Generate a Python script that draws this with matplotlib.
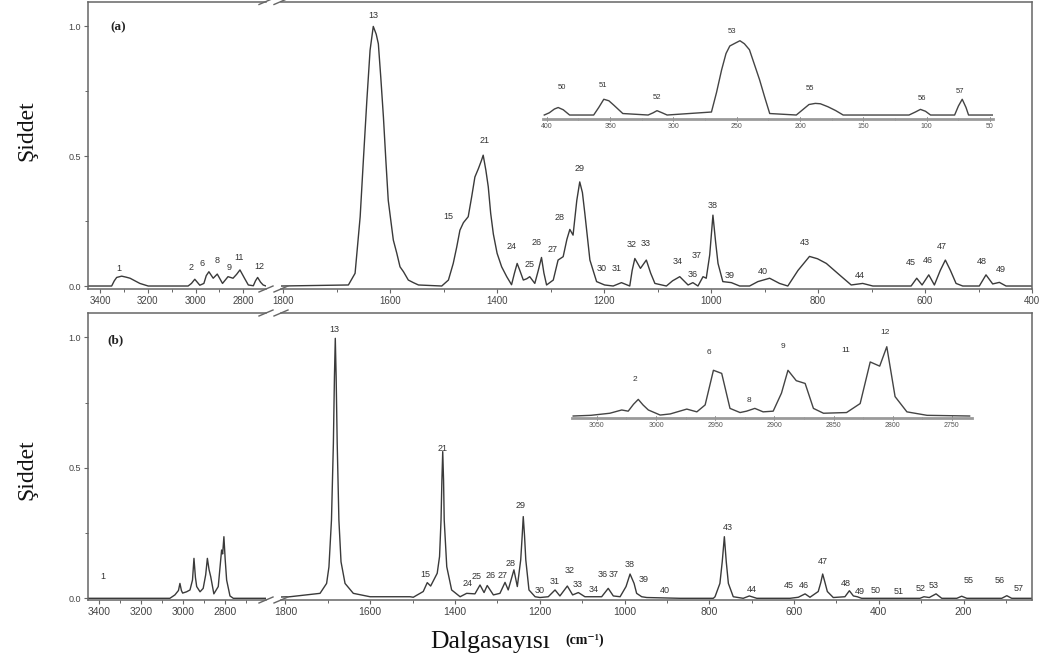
import matplotlib
matplotlib.use('Agg')
import matplotlib.pyplot as plt
from matplotlib.lines import Line2D
from matplotlib.ticker import MultipleLocator, FixedLocator

# ---------------- data ----------------
# Panel (a), high-wavenumber segment
A_L_WN = [3450, 3351, 3340, 3330, 3309, 3290, 3274, 3233, 3198, 3031,
          3017, 3003, 2982, 2965, 2955, 2944, 2926, 2909, 2887, 2864,
          2843, 2828, 2814, 2795, 2779, 2758, 2749, 2740, 2728, 2717, 2705]
A_L_I = [0, 0, 0.02, 0.033, 0.038, 0.034, 0.03, 0.01, 0, 0,
         0.01, 0.026, 0.003, 0.01, 0.04, 0.055, 0.03, 0.046, 0.01, 0.036,
         0.03, 0.045, 0.062, 0.03, 0.004, 0.001, 0.02, 0.033, 0.015, 0.004, 0]

# Panel (a), fingerprint segment
A_R_WN = [1804, 1678, 1665.5, 1656, 1650, 1643.5, 1637.5, 1631.5, 1626, 1622,
          1617.5, 1612.5, 1608, 1603.5, 1598, 1594, 1587.5, 1581.5, 1575, 1566,
          1556.5, 1547, 1503.5, 1491, 1482, 1475.5, 1469.5, 1463, 1454, 1447.5,
          1441.5, 1435, 1429, 1426, 1421, 1416.5, 1412, 1407, 1400, 1391.5,
          1382, 1373, 1367.5, 1362.5, 1357.5, 1351, 1344.5, 1339, 1329.5, 1323,
          1317, 1312.5, 1307.5, 1295, 1286, 1276.5, 1269.5, 1264, 1258, 1251,
          1245.5, 1240.5, 1236, 1226.5, 1214, 1199, 1183, 1167.5, 1152, 1147.5,
          1142.5, 1132, 1121, 1113, 1105, 1083.5, 1072, 1058.5, 1043, 1034,
          1024.5, 1015, 1009, 1002.5, 996.5, 991.5, 987, 978, 962, 946.5,
          928, 912.5, 890.5, 872, 856.5, 837.5, 816, 801, 784.5, 760,
          738, 716.5, 697.5, 626, 615.5, 605.5, 593, 582.5, 571.5, 562,
          552.5, 542, 529.5, 498.5, 486, 473.5, 461, 448.5, 401]
A_R_I = [0, 0.004, 0.049, 0.267, 0.485, 0.715, 0.908, 1.0, 0.97, 0.933,
         0.805, 0.65, 0.485, 0.33, 0.241, 0.177, 0.126, 0.074, 0.055, 0.023,
         0.013, 0.004, 0, 0.023, 0.087, 0.15, 0.215, 0.244, 0.267, 0.344,
         0.42, 0.452, 0.485, 0.504, 0.446, 0.382, 0.28, 0.2, 0.126, 0.074,
         0.036, 0.005, 0.05, 0.087, 0.06, 0.023, 0.028, 0.036, 0.01, 0.06,
         0.11, 0.05, 0.004, 0.023, 0.1, 0.113, 0.18, 0.218, 0.196, 0.33,
         0.401, 0.36, 0.28, 0.1, 0.017, 0.004, 0, 0.013, 0, 0.06,
         0.106, 0.068, 0.1, 0.05, 0.01, 0, 0.02, 0.036, 0.004, 0.013,
         0, 0.036, 0.03, 0.12, 0.273, 0.17, 0.087, 0.017, 0.013, 0,
         0, 0.017, 0.03, 0.01, 0, 0.06, 0.114, 0.105, 0.087, 0.043,
         0.004, 0.01, 0, 0, 0.03, 0.004, 0.043, 0.004, 0.06, 0.1,
         0.06, 0.01, 0, 0, 0.043, 0.008, 0.014, 0, 0]

# Panel (a) inset (400-50 cm-1, relative)
INS_A_WN = [402, 398, 394, 391, 387, 382, 363, 359, 355, 351,
            347, 340, 320, 316, 313, 309, 305, 270, 266, 262,
            258.5, 255.5, 251, 247.5, 244, 240, 236, 232, 228, 224,
            203, 198, 193, 188, 184, 178, 172, 166, 114, 109,
            105, 101, 97, 78, 75, 72, 69, 67, 48]
INS_A_I = [0.0, 0.03, 0.08, 0.10, 0.07, 0.0, 0.0, 0.10, 0.21, 0.19,
           0.13, 0.02, 0.0, 0.03, 0.058, 0.03, 0.0, 0.04, 0.3, 0.6,
           0.82, 0.92, 0.96, 0.99, 0.95, 0.87, 0.67, 0.47, 0.24, 0.02,
           0.0, 0.07, 0.14, 0.155, 0.15, 0.11, 0.06, 0.0, 0.0, 0.04,
           0.075, 0.05, 0.0, 0.0, 0.12, 0.21, 0.10, 0.0, 0.0]

# Panel (b), high-wavenumber segment
B_L_WN = [3454, 3063, 3039, 3022, 3015, 3008, 3002, 2983, 2967, 2955,
          2948, 2941, 2935, 2919, 2904, 2892, 2884, 2876, 2868, 2853,
          2832, 2816, 2811, 2805, 2799, 2792, 2776, 2760, 2604]
B_L_I = [0, 0, 0.013, 0.03, 0.057, 0.03, 0.02, 0.025, 0.032, 0.07,
         0.153, 0.08, 0.045, 0.025, 0.038, 0.09, 0.153, 0.11, 0.083, 0.017,
         0.045, 0.185, 0.17, 0.236, 0.15, 0.07, 0.009, 0, 0]

# Panel (b), fingerprint segment
B_R_WN = [1812, 1789.5, 1718.5, 1703, 1697.5, 1691.5, 1687, 1684.5, 1682.5, 1680.5,
          1678, 1674, 1669, 1659.5, 1640, 1600.5, 1506, 1498.5, 1475, 1465.5,
          1457.5, 1442, 1436.5, 1433, 1431, 1429, 1427, 1425.5, 1419.5, 1408,
          1388, 1372.5, 1353, 1341, 1331.5, 1324, 1309.5, 1294, 1282, 1274.5,
          1261, 1253, 1245, 1241.5, 1239, 1236, 1233, 1225.5, 1211, 1199.5,
          1180, 1164, 1152.5, 1135, 1122.5, 1109, 1093.5, 1073.5, 1054, 1038.5,
          1026.5, 1010.5, 996.5, 987, 977.5, 971.5, 959.5, 947.5, 869, 790.5,
          786.5, 775, 769.5, 764.5, 760, 755, 743.5, 720, 705.5, 688,
          609.5, 590, 574, 562.5, 543, 537, 532.5, 527, 521.5, 507.5,
          480, 469.5, 460, 451, 440.5, 303, 293.5, 281, 265, 251.5,
          216, 204.5, 192.5, 110, 98, 86.5, 38]
B_R_I = [0.005, 0.006, 0.019, 0.057, 0.12, 0.3, 0.594, 0.85, 0.996, 0.85,
         0.594, 0.3, 0.14, 0.057, 0.019, 0.006, 0.006, 0.004, 0.026, 0.06,
         0.047, 0.096, 0.16, 0.3, 0.45, 0.562, 0.45, 0.3, 0.121, 0.032,
         0.006, 0.019, 0.017, 0.051, 0.022, 0.049, 0.013, 0.019, 0.061, 0.032,
         0.109, 0.045, 0.147, 0.24, 0.313, 0.24, 0.147, 0.032, 0.006, 0.003,
         0.006, 0.032, 0.009, 0.047, 0.013, 0.022, 0.006, 0.006, 0.006, 0.038,
         0.009, 0.006, 0.045, 0.093, 0.057, 0.019, 0.006, 0.003, 0, 0,
         0.006, 0.057, 0.14, 0.236, 0.14, 0.057, 0.006, 0, 0.009, 0,
         0, 0.004, 0.017, 0.004, 0.026, 0.06, 0.093, 0.06, 0.026, 0.003,
         0.006, 0.029, 0.009, 0.006, 0, 0, 0.006, 0.003, 0.017, 0,
         0, 0.008, 0, 0, 0.01, 0, 0]

# Panel (b) inset (3070-2735 cm-1, relative)
INS_B_WN = [3070, 3055, 3039, 3029, 3023.5, 3019, 3015, 3011, 3006.5, 2996.5,
            2988, 2974, 2965.5, 2958.5, 2951.5, 2944.5, 2937.5, 2929, 2923.5, 2916.5,
            2909.5, 2901, 2894, 2888.5, 2881.5, 2874, 2867, 2858.5, 2839, 2827.5,
            2819, 2811, 2805, 2798, 2788, 2771, 2735]
INS_B_I = [0.0, 0.01, 0.04, 0.087, 0.07, 0.17, 0.24, 0.16, 0.087, 0.014,
           0.03, 0.10, 0.06, 0.16, 0.66, 0.615, 0.11, 0.05, 0.07, 0.11,
           0.06, 0.07, 0.33, 0.66, 0.51, 0.47, 0.11, 0.04, 0.05, 0.18,
           0.78, 0.72, 1.0, 0.28, 0.06, 0.01, 0.0]

# Peak labels
A_L_LAB = ['1', '2', '6', '8', '9', '11', '12']
A_L_LAB_WN = [3320, 3019, 2973, 2910, 2860, 2818, 2735]
A_L_LAB_I = [0.069, 0.073, 0.088, 0.1, 0.073, 0.11, 0.077]

A_R_LAB = ['13', '15', '21', '24', '25', '26', '27', '28', '29', '30',
           '31', '32', '33', '34', '36', '37', '38', '39', '40', '43',
           '44', '45', '46', '47', '48', '49']
A_R_LAB_WN = [1632, 1492, 1423, 1373, 1339, 1326, 1296, 1283, 1245, 1205,
              1177, 1148, 1122, 1062, 1035, 1026, 996.5, 965, 903, 825,
              722.5, 626, 595, 568, 493, 458]
A_R_LAB_I = [1.042, 0.266, 0.56, 0.151, 0.081, 0.167, 0.141, 0.264, 0.454, 0.068,
             0.068, 0.158, 0.164, 0.094, 0.045, 0.119, 0.31, 0.042, 0.055, 0.167,
             0.042, 0.09, 0.097, 0.154, 0.096, 0.062]

INS_A_LAB = ['50', '51', '52', '53', '55', '56', '57']
INS_A_LAB_WN = [388, 356, 313, 254, 192, 104, 74]
INS_A_LAB_I = [0.373, 0.40, 0.227, 1.107, 0.347, 0.22, 0.32]

B_L_LAB = ['1']
B_L_LAB_WN = [3384]
B_L_LAB_I = [0.085]

B_R_LAB = ['13', '15', '21', '24', '25', '26', '27', '28', '29', '30',
           '31', '32', '33', '34', '36', '37', '38', '39', '40', '43',
           '44', '45', '46', '47', '48', '49', '50', '51', '52', '53',
           '55', '56', '57']
B_R_LAB_WN = [1685.5, 1471, 1429, 1371, 1349, 1315, 1287.5, 1268.5, 1246.5, 1199.5,
              1165.5, 1130, 1111.5, 1073.5, 1052.5, 1026.5, 987, 955.5, 904.5, 756.5,
              700, 613.5, 578, 532.5, 478, 446, 406.5, 354, 301, 271.5,
              189, 114, 71]
B_R_LAB_I = [1.028, 0.093, 0.572, 0.057, 0.085, 0.089, 0.089, 0.134, 0.357, 0.029,
             0.064, 0.106, 0.051, 0.032, 0.093, 0.093, 0.128, 0.073, 0.029, 0.272,
             0.032, 0.048, 0.048, 0.14, 0.057, 0.025, 0.029, 0.025, 0.036, 0.048,
             0.067, 0.067, 0.036]

INS_B_LAB = ['2', '6', '8', '9', '11', '12']
INS_B_LAB_WN = [3018, 2955, 2921.5, 2893, 2840, 2806.5]
INS_B_LAB_I = [0.52, 0.91, 0.23, 1.0, 0.95, 1.2]

Y_TICKS = [0.0, 0.5, 1.0]
Y_TICK_LABELS = ['0.0', '0.5', '1.0']
LEFT_TICKS = [3400, 3200, 3000, 2800]
A_RIGHT_TICKS = [1800, 1600, 1400, 1200, 1000, 800, 600, 400]
B_RIGHT_TICKS = [1800, 1600, 1400, 1200, 1000, 800, 600, 400, 200]
INS_A_TICKS = [400, 350, 300, 250, 200, 150, 100, 50]
INS_B_TICKS = [3050, 3000, 2950, 2900, 2850, 2800, 2750]

# ---------------- figure ----------------
W, H = 1058, 664
fig = plt.figure(figsize=(W / 100, H / 100), dpi=100)
NUMFONT = 'Liberation Sans'
SERIF = ['Liberation Serif', 'DejaVu Serif']
LINE_C = '#3a3a3a'
SPINE_C = '#666666'
TXT_C = '#333333'


def box(x0, y0, x1, y1):
    return [x0 / W, 1 - y1 / H, (x1 - x0) / W, (y1 - y0) / H]


def style_seg(ax, side, ticks, labelsize):
    for s in ax.spines.values():
        s.set_color(SPINE_C)
        s.set_linewidth(1.1)
    ax.set_xticks(ticks)
    ax.set_xticklabels([str(t) for t in ticks], fontfamily=NUMFONT)
    ax.xaxis.set_minor_locator(MultipleLocator(100))
    ax.tick_params(axis='x', which='major', direction='out', length=3, width=0.8,
                   color=SPINE_C, labelsize=labelsize, labelcolor='#444444', pad=2,
                   top=False)
    ax.tick_params(axis='x', which='minor', direction='out', length=2, width=0.7,
                   color=SPINE_C, top=False)
    if side == 'left':
        ax.spines['right'].set_visible(False)
        ax.set_yticks(Y_TICKS)
        ax.set_yticklabels(Y_TICK_LABELS, fontfamily=NUMFONT)
        ax.yaxis.set_minor_locator(FixedLocator([0.25, 0.75]))
        ax.tick_params(axis='y', which='major', direction='out', length=3, width=0.8,
                       color=SPINE_C, labelsize=6.5, labelcolor='#444444', pad=2,
                       right=False)
        ax.tick_params(axis='y', which='minor', direction='out', length=2, width=0.7,
                       color=SPINE_C, right=False)
    else:
        ax.spines['left'].set_visible(False)
        ax.tick_params(axis='y', which='both', left=False, labelleft=False,
                       right=False)


def put_labels(ax, labs, wns, ints, size):
    for t, x, y in zip(labs, wns, ints):
        ax.text(x, y, t, ha='center', va='center', fontsize=size, color=TXT_C,
                fontfamily=NUMFONT, clip_on=False)


def brk(xc, yc):
    fig.add_artist(Line2D([(xc - 7) / W, (xc + 7) / W],
                          [1 - (yc + 3) / H, 1 - (yc - 3) / H],
                          transform=fig.transFigure, color=SPINE_C, lw=1.0))


# ---- panel (a)
a_top, a_bot = 1.5, 289
axL = fig.add_axes(box(88, a_top, 266, a_bot))
axR = fig.add_axes(box(281, a_top, 1032, a_bot))
axL.plot(A_L_WN, A_L_I, color=LINE_C, lw=1.0)
axR.plot(A_R_WN, A_R_I, color=LINE_C, lw=1.0)
axL.set_xlim(3450, 2705)
axR.set_xlim(1804, 400)
for ax in (axL, axR):
    ax.set_ylim(-0.0115, 1.096)
style_seg(axL, 'left', LEFT_TICKS, 7)
style_seg(axR, 'right', A_RIGHT_TICKS, 7)
put_labels(axL, A_L_LAB, A_L_LAB_WN, A_L_LAB_I, 6.5)
put_labels(axR, A_R_LAB, A_R_LAB_WN, A_R_LAB_I, 6.5)

# ---- panel (b)
b_top, b_bot = 313, 600
bxL = fig.add_axes(box(88, b_top, 266, b_bot))
bxR = fig.add_axes(box(281, b_top, 1032, b_bot))
bxL.plot(B_L_WN, B_L_I, color=LINE_C, lw=1.0)
bxR.plot(B_R_WN, B_R_I, color=LINE_C, lw=1.0)
bxL.set_xlim(3454, 2604)
bxR.set_xlim(1810.6, 38.6)
for ax in (bxL, bxR):
    ax.set_ylim(-0.0065, 1.093)
style_seg(bxL, 'left', LEFT_TICKS, 7.5)
style_seg(bxR, 'right', B_RIGHT_TICKS, 7.5)
put_labels(bxL, B_L_LAB, B_L_LAB_WN, B_L_LAB_I, 6.5)
put_labels(bxR, B_R_LAB, B_R_LAB_WN, B_R_LAB_I, 6.5)

# break marks
for yc in (a_top, a_bot, b_top, b_bot):
    brk(266, yc)
    brk(281, yc)


def style_inset(ax, ticks, minor):
    ax.patch.set_visible(False)
    for k in ('top', 'left', 'right'):
        ax.spines[k].set_visible(False)
    ax.spines['bottom'].set_color('#9a9a9a')
    ax.spines['bottom'].set_linewidth(2.0)
    ax.set_yticks([])
    ax.set_xticks(ticks)
    ax.set_xticklabels([str(t) for t in ticks], fontfamily=NUMFONT)
    ax.xaxis.set_minor_locator(MultipleLocator(minor))
    ax.tick_params(axis='x', which='major', direction='inout', length=3, width=0.7,
                   color='#444444', labelsize=5, labelcolor='#555555', pad=1)
    ax.tick_params(axis='x', which='minor', direction='inout', length=2, width=0.6,
                   color='#444444')


# ---- inset (a)
ia = fig.add_axes(box(543, 30, 993, 119.3))
ia.plot(INS_A_WN, INS_A_I, color='#444444', lw=1.0)
ia.set_xlim(403, 47.7)
ia.set_ylim(-0.057, 1.133)
style_inset(ia, INS_A_TICKS, 25)
put_labels(ia, INS_A_LAB, INS_A_LAB_WN, INS_A_LAB_I, 5.5)

# ---- inset (b)
ib = fig.add_axes(box(572, 340, 972, 418.3))
ib.plot(INS_B_WN, INS_B_I, color='#444444', lw=1.0)
ib.set_xlim(3071, 2733)
ib.set_ylim(-0.033, 1.097)
style_inset(ib, INS_B_TICKS, 25)
put_labels(ib, INS_B_LAB, INS_B_LAB_WN, INS_B_LAB_I, 6)

# ---- texts
fig.text(118 / W, 1 - 27 / H, '(a)', fontweight='bold', fontfamily=SERIF,
         fontsize=9.5, ha='center', va='center', color='#222222')
fig.text(115 / W, 1 - 340 / H, '(b)', fontweight='bold', fontfamily=SERIF,
         fontsize=9.5, ha='center', va='center', color='#222222')
fig.text(27 / W, 1 - 131 / H, 'Şiddet', rotation=90, ha='center', va='center',
         fontsize=17, fontfamily=SERIF, color='#111111')
fig.text(27 / W, 1 - 470 / H, 'Şiddet', rotation=90, ha='center', va='center',
         fontsize=17, fontfamily=SERIF, color='#111111')
fig.text(430 / W, 1 - 648 / H, 'Dalgasayısı', ha='left', va='baseline',
         fontsize=18.5, fontfamily=SERIF, color='#111111')
fig.text(565 / W, 1 - 640 / H, '(cm⁻¹)', ha='left', va='center',
         fontsize=10, fontweight='bold', fontfamily=SERIF, color='#111111')

fig.savefig('out.png', dpi=100)
